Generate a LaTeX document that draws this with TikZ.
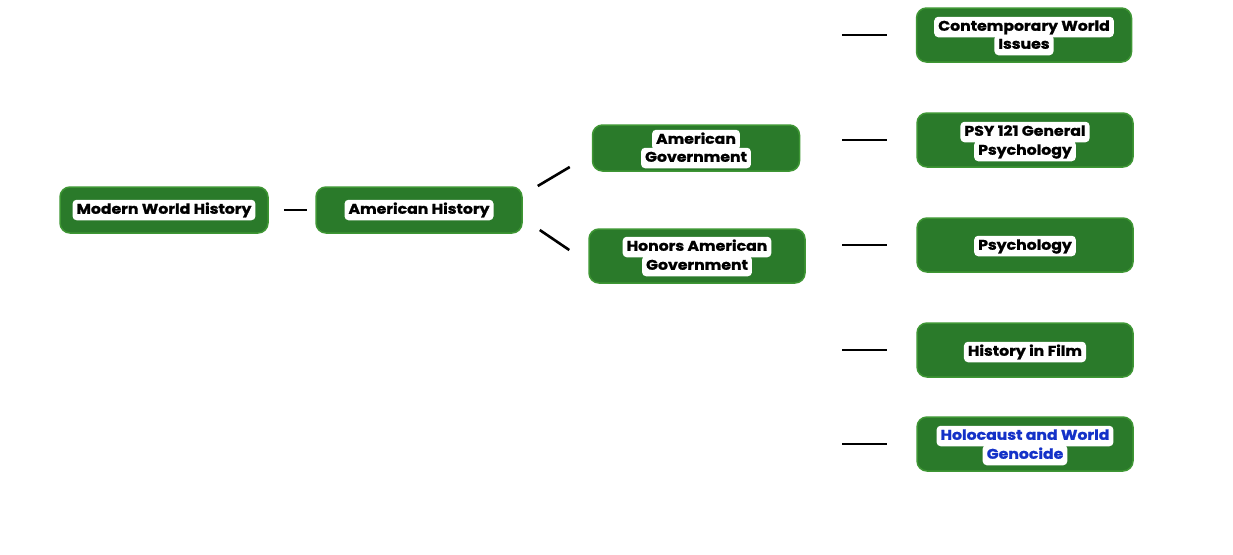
\documentclass[tikz,border=0pt]{standalone}
\usepackage{fontspec}
\setmainfont{Poppins}[FakeStretch=1.12, BoldFeatures={FakeBold=1.3}]
\usetikzlibrary{calc}
\definecolor{boxgreen}{RGB}{42,122,42}
\definecolor{boxedge}{RGB}{62,150,52}
\definecolor{holblue}{RGB}{20,50,200}
\begin{document}
\begin{tikzpicture}[x=1pt,y=-1pt,
 box/.style={draw=boxedge, line width=1.5pt, fill=boxgreen, rounded corners=10pt, inner sep=0pt},
 lab/.style={fill=white, rounded corners=4pt, inner xsep=4pt, inner ysep=3.5pt, text height=10.5pt, text depth=3pt, font=\bfseries\fontsize{14}{16}\selectfont},
 conn/.style={line width=2.6pt, black}]
\useasboundingbox (0,0) rectangle (1233,554);
% boxes
\node[box, minimum width=208pt, minimum height=46pt] (mwh) at (164,210) {};
\node[box, minimum width=206pt, minimum height=46pt] (ah) at (419,210) {};
\node[box, minimum width=207pt, minimum height=46pt] (ag) at (696,148) {};
\node[box, minimum width=216pt, minimum height=54pt] (hag) at (697,256) {};
\node[box, minimum width=215pt, minimum height=54pt] (cwi) at (1024,35) {};
\node[box, minimum width=216pt, minimum height=54pt] (psy121) at (1025,140) {};
\node[box, minimum width=216pt, minimum height=54pt] (psy) at (1025,245) {};
\node[box, minimum width=216pt, minimum height=54pt] (hif) at (1025,350) {};
\node[box, minimum width=216pt, minimum height=54pt] (hol) at (1025,444) {};
% labels
\node[lab] (mwhl) at (mwh) {Modern World History};
\node[lab] (ahl) at (ah) {American History};
\node[lab] (agl1) at ($(ag)+(0,-8)$) {American};
\node[lab] (agl2) at ($(ag)+(0,10)$) {Government};
\node[lab] (hagl1) at ($(hag)+(0,-9)$) {Honors American};
\node[lab] (hagl2) at ($(hag)+(0,10)$) {Government};
\node[lab] (cwil1) at ($(cwi)+(0,-8)$) {Contemporary World};
\node[lab] (cwil2) at ($(cwi)+(0,10)$) {Issues};
\node[lab] (psy121l1) at ($(psy121)+(0,-8)$) {PSY 121 General};
\node[lab] (psy121l2) at ($(psy121)+(0,11)$) {Psychology};
\node[lab] (psyl) at ($(psy)+(0,1)$) {Psychology};
\node[lab] (hifl) at ($(hif)+(0,2)$) {History in Film};
\node[lab, text=holblue] (holl1) at ($(hol)+(0,-8)$) {Holocaust and World};
\node[lab, text=holblue] (holl2) at ($(hol)+(0,11)$) {Genocide};
% connectors
\draw[conn] ($(mwh.east)+(15,0)$) -- ($(ah.west)+(-8,0)$);
\draw[conn] ($(ah.east)+(15,-24)$) -- ($(ag.west)+(-22,19)$);
\draw[conn] ($(ah.east)+(17,20)$) -- ($(hag.west)+(-19,-6)$);
\foreach \c in {cwi,psy121,psy,hif,hol}
  \draw[conn] ($(\c.west)+(-74,0)$) -- ($(\c.west)+(-29,0)$);
\end{tikzpicture}
\end{document}
